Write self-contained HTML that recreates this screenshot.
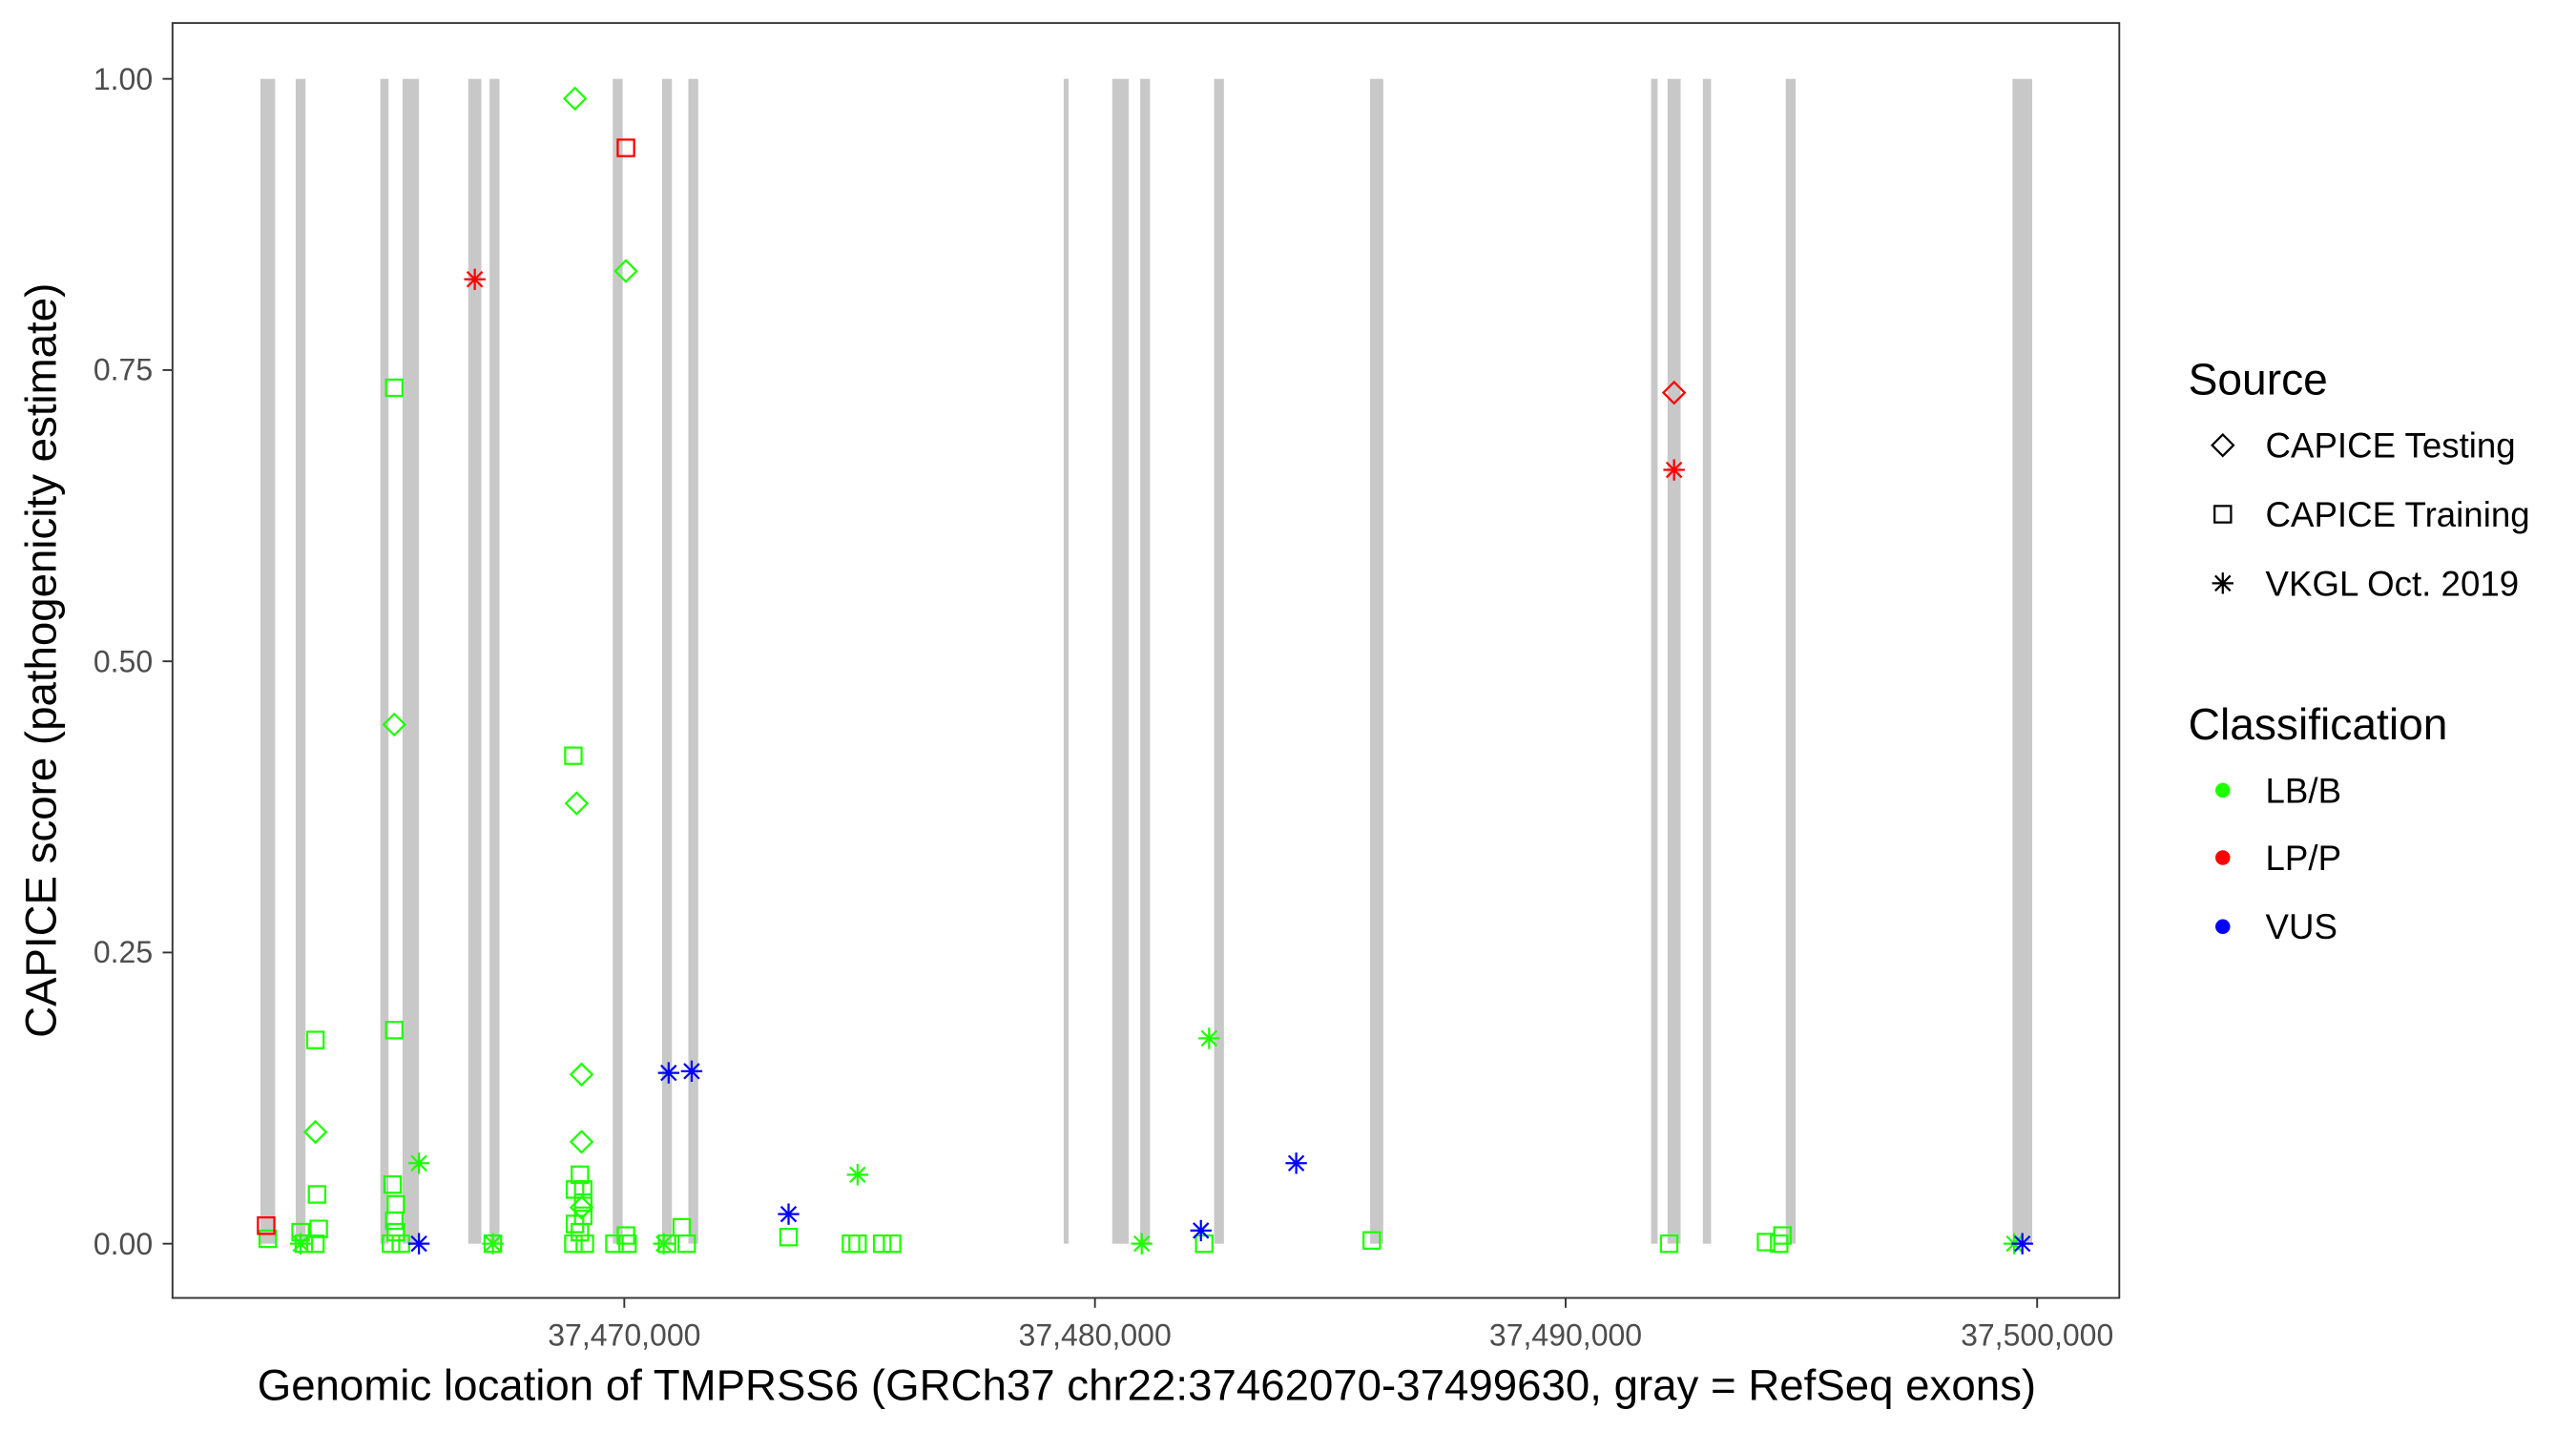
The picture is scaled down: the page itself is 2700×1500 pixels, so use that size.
<!DOCTYPE html>
<html><head><meta charset="utf-8"><style>html,body{margin:0;padding:0;background:#fff}svg{display:block}</style></head>
<body>
<svg width="2700" height="1500" viewBox="0 0 1568 871" preserveAspectRatio="none" xmlns="http://www.w3.org/2000/svg" font-family="Liberation Sans, sans-serif">
<defs>
<path id="sq" d="M-5,-5h10v10h-10z" fill="none" stroke-width="1.3"/>
<path id="dm" d="M0,-6.5L6.5,0L0,6.5L-6.5,0z" fill="none" stroke-width="1.3"/>
<path id="as" d="M-6.5,0H6.5M0,-6.5V6.5M-4.6,-4.6L4.6,4.6M-4.6,4.6L4.6,-4.6" fill="none" stroke-width="1.3"/>
</defs>
<rect width="1568" height="871" fill="#fff"/>
<g fill="#c8c8c8">
<rect x="158.5" y="48" width="9" height="709"/>
<rect x="180" y="48" width="6" height="709"/>
<rect x="231.5" y="48" width="5" height="709"/>
<rect x="245" y="48" width="10" height="709"/>
<rect x="285" y="48" width="8" height="709"/>
<rect x="298" y="48" width="6" height="709"/>
<rect x="373" y="48" width="6" height="709"/>
<rect x="403" y="48" width="6" height="709"/>
<rect x="419" y="48" width="6" height="709"/>
<rect x="647.5" y="48" width="3" height="709"/>
<rect x="677" y="48" width="10" height="709"/>
<rect x="694" y="48" width="6" height="709"/>
<rect x="739" y="48" width="6" height="709"/>
<rect x="834" y="48" width="8" height="709"/>
<rect x="1005" y="48" width="4" height="709"/>
<rect x="1015" y="48" width="8" height="709"/>
<rect x="1036.5" y="48" width="5" height="709"/>
<rect x="1087" y="48" width="6" height="709"/>
<rect x="1225" y="48" width="12" height="709"/>
</g>
<rect x="105" y="14" width="1185" height="776" fill="none" stroke="#333" stroke-width="1.1"/>
<g stroke="#333" stroke-width="1.1">
<line x1="99" x2="105" y1="48" y2="48"/><line x1="99" x2="105" y1="225.25" y2="225.25"/><line x1="99" x2="105" y1="402.5" y2="402.5"/><line x1="99" x2="105" y1="579.75" y2="579.75"/><line x1="99" x2="105" y1="757" y2="757"/>
<line x1="380" x2="380" y1="790" y2="796"/><line x1="666.5" x2="666.5" y1="790" y2="796"/><line x1="953" x2="953" y1="790" y2="796"/><line x1="1240" x2="1240" y1="790" y2="796"/>
</g>
<g fill="#4d4d4d" font-size="18.6" text-anchor="end">
<text x="93" y="54.5">1.00</text><text x="93" y="231.5">0.75</text><text x="93" y="409">0.50</text><text x="93" y="586">0.25</text><text x="93" y="763.5">0.00</text>
</g>
<g fill="#4d4d4d" font-size="18.6" text-anchor="middle">
<text x="380" y="819">37,470,000</text><text x="666.5" y="819">37,480,000</text><text x="953" y="819">37,490,000</text><text x="1240" y="819">37,500,000</text>
</g>
<text x="698" y="852" font-size="26.5" text-anchor="middle" fill="#000">Genomic location of TMPRSS6 (GRCh37 chr22:37462070-37499630, gray = RefSeq exons)</text>
<text transform="translate(34,402) rotate(-90)" font-size="26.5" text-anchor="middle" fill="#000">CAPICE score (pathogenicity estimate)</text>
<g stroke="#1eff00">
<use href="#dm" x="350" y="60"/><use href="#dm" x="381" y="165"/><use href="#dm" x="240" y="441"/><use href="#dm" x="351" y="489"/><use href="#dm" x="192" y="689"/><use href="#dm" x="354" y="654"/><use href="#dm" x="354" y="695"/><use href="#dm" x="354" y="735"/>
<use href="#sq" x="240" y="236"/><use href="#sq" x="349" y="460"/><use href="#sq" x="192" y="633"/><use href="#sq" x="240" y="627"/><use href="#sq" x="193" y="727"/><use href="#sq" x="239" y="721"/><use href="#sq" x="240" y="743"/><use href="#sq" x="241" y="733"/><use href="#sq" x="241" y="750"/><use href="#sq" x="163" y="754"/><use href="#sq" x="183" y="750"/><use href="#sq" x="185" y="757"/><use href="#sq" x="194" y="748"/><use href="#sq" x="192" y="757"/><use href="#sq" x="238" y="757"/><use href="#sq" x="244" y="757"/><use href="#sq" x="353" y="715"/><use href="#sq" x="350" y="724"/><use href="#sq" x="355" y="724"/><use href="#sq" x="355" y="732"/><use href="#sq" x="355" y="740"/><use href="#sq" x="350" y="745"/><use href="#sq" x="353" y="750"/><use href="#sq" x="349" y="757"/><use href="#sq" x="356" y="757"/><use href="#sq" x="374" y="757"/><use href="#sq" x="382" y="757"/><use href="#sq" x="381" y="752"/><use href="#sq" x="415" y="747"/><use href="#sq" x="418" y="757"/><use href="#sq" x="406" y="757"/><use href="#sq" x="480" y="753"/><use href="#sq" x="518" y="757"/><use href="#sq" x="522" y="757"/><use href="#sq" x="537" y="757"/><use href="#sq" x="543" y="757"/><use href="#sq" x="733" y="757"/><use href="#sq" x="835" y="755"/><use href="#sq" x="1016" y="757"/><use href="#sq" x="1075" y="756"/><use href="#sq" x="1085" y="752"/><use href="#sq" x="1083" y="757"/><use href="#sq" x="300" y="757"/>
<use href="#as" x="255" y="708"/><use href="#as" x="522" y="715"/><use href="#as" x="736" y="632"/><use href="#as" x="695" y="757"/><use href="#as" x="300" y="757"/><use href="#as" x="404" y="757"/><use href="#as" x="1226" y="757"/><use href="#as" x="183" y="757"/>
</g>
<g stroke="#ff0000">
<use href="#dm" x="1019" y="239"/><use href="#sq" x="381" y="90"/><use href="#sq" x="162" y="746"/><use href="#as" x="289" y="170"/><use href="#as" x="1019" y="286"/>
</g>
<g stroke="#0000ff">
<use href="#as" x="255" y="757"/><use href="#as" x="407" y="653"/><use href="#as" x="421" y="652"/><use href="#as" x="480" y="739"/><use href="#as" x="731" y="749"/><use href="#as" x="789" y="708"/><use href="#as" x="1231" y="757"/>
</g>
<text x="1332" y="240" font-size="26.8">Source</text>
<g stroke="#000"><use href="#dm" x="1353" y="271"/><use href="#sq" x="1353" y="313"/><use href="#as" x="1353" y="355"/></g>
<g font-size="21.3"><text x="1379" y="278.5">CAPICE Testing</text><text x="1379" y="320.5">CAPICE Training</text><text x="1379" y="362.5">VKGL Oct. 2019</text></g>
<text x="1332" y="450" font-size="26.8">Classification</text>
<circle cx="1353" cy="481" r="4.5" fill="#1eff00"/><circle cx="1353" cy="522" r="4.5" fill="#ff0000"/><circle cx="1353" cy="564" r="4.5" fill="#0000ff"/>
<g font-size="21.3"><text x="1379" y="488.5">LB/B</text><text x="1379" y="529.5">LP/P</text><text x="1379" y="571.5">VUS</text></g>
</svg>
</body></html>
